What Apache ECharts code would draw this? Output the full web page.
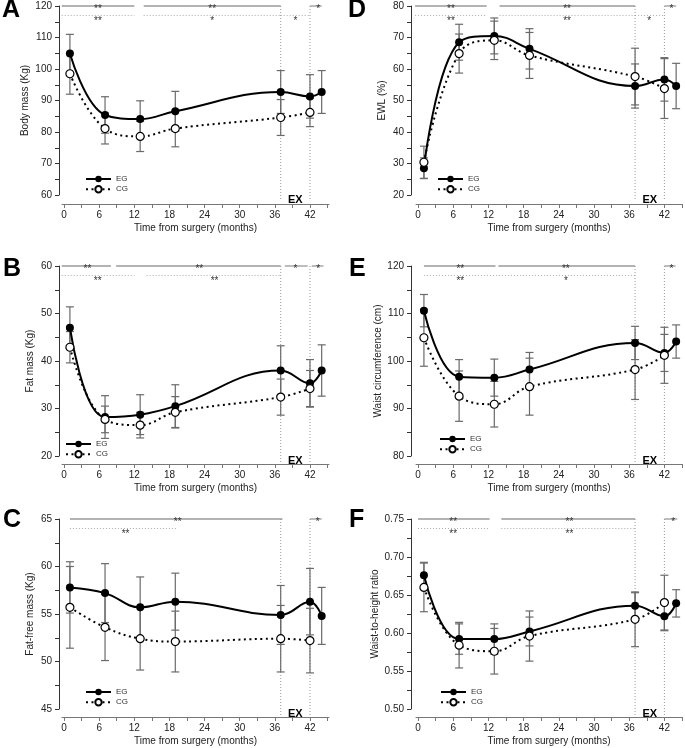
<!DOCTYPE html>
<html><head><meta charset="utf-8">
<script src="https://cdn.jsdelivr.net/npm/echarts@6/dist/echarts.min.js"></script>
<style>html,body{margin:0;padding:0;background:#fff}#c{width:685px;height:748px}</style>
</head><body><div id="c"></div>
<script>
// ---------- shared ----------
const monthsEG = [1, 7, 13, 19, 37, 42, 44];
const monthsCG = [1, 7, 13, 19, 37, 42];
const xTickValues = [0, 3, 6, 9, 12, 15, 18, 21, 24, 27, 30, 33, 36, 39, 42, 45];
const xLabelValues = [0, 6, 12, 18, 24, 30, 36, 42];
const exLines = [37, 42];

// ---------- A: Body mass ----------
const bodyMassEG = [104.9, 85.4, 84.1, 86.6, 92.7, 91.3, 92.7];
const bodyMassEGsd = [6.1, 5.8, 5.8, 6.3, 6.8, 6.9, 6.8];
const bodyMassCG = [98.5, 81.1, 78.6, 81.1, 84.6, 86.2];
const bodyMassCGsd = [6.5, 4.9, 4.8, 5.8, 5.7, 4.5];
const bodyMassSolid = [[-0.4, 12], [13.6, 37], [42, 44]];
const bodyMassDotted = [[-0.4, 12], [13.6, 37], [37, 42]];
const bodyMassStars = [[5.8, 1, '**'], [25.3, 1, '**'], [43.4, 1, '*'], [5.8, 2, '**'], [25.3, 2, '*'], [39.5, 2, '*']];

// ---------- B: Fat mass ----------
const fatMassEG = [47.0, 28.2, 28.7, 30.5, 38.0, 35.3, 38.0];
const fatMassEGsd = [4.4, 4.5, 4.2, 4.5, 5.2, 5.0, 5.4];
const fatMassCG = [42.9, 27.7, 26.5, 29.2, 32.4, 34.2];
const fatMassCGsd = [3.3, 2.8, 2.7, 3.3, 3.8, 3.8];
const fatMassSolid = [[-0.4, 8], [8.9, 37], [37.7, 41.6], [42.3, 44.3]];
const fatMassDotted = [[-0.4, 12], [14.1, 37]];
const fatMassStars = [[4.0, 1, '**'], [23.1, 1, '**'], [39.5, 1, '*'], [43.4, 1, '*'], [5.75, 2, '**'], [25.7, 2, '**']];

// ---------- C: Fat-free mass ----------
const fatFreeEG = [57.8, 57.2, 55.7, 56.3, 54.9, 56.3, 54.8];
const fatFreeEGsd = [2.7, 3.1, 3.2, 3.0, 3.1, 3.5, 3.0];
const fatFreeCG = [55.7, 53.6, 52.4, 52.1, 52.4, 52.2];
const fatFreeCGsd = [4.3, 3.5, 3.3, 3.2, 3.5, 3.4];
const fatFreeSolid = [[1, 37.3], [42, 44]];
const fatFreeDotted = [[1, 19.4]];
const fatFreeStars = [[19.4, 1, '**'], [43.3, 1, '*'], [10.5, 2, '**']];

// ---------- D: EWL ----------
const ewlEG = [28.5, 68.5, 70.5, 66.4, 54.6, 56.7, 54.6];
const ewlEGsd = [3.3, 5.7, 5.7, 6.4, 7.0, 6.9, 7.2];
const ewlCG = [30.4, 64.9, 69.1, 64.3, 57.6, 53.8];
const ewlCGsd = [5.1, 6.2, 6.1, 7.3, 9.0, 9.5];
const ewlSolid = [[-0.5, 11.7], [13.9, 37], [42, 44]];
const ewlDotted = [[-0.5, 11.7], [13.9, 37], [37, 42]];
const ewlStars = [[5.6, 1, '**'], [25.4, 1, '**'], [43.2, 1, '*'], [5.6, 2, '**'], [25.4, 2, '**'], [39.4, 2, '*']];

// ---------- E: Waist circumference ----------
const waistEG = [110.6, 96.7, 96.5, 98.2, 103.8, 101.7, 104.1];
const waistEGsd = [3.4, 3.6, 3.9, 3.6, 3.5, 3.9, 3.5];
const waistCG = [104.9, 92.6, 90.9, 94.6, 98.2, 101.2];
const waistCGsd = [6.0, 5.3, 4.8, 6.0, 6.3, 5.9];
const waistSolid = [[1, 13.2], [13.7, 37], [42, 43.9]];
const waistDotted = [[1, 37]];
const waistStars = [[7.2, 1, '**'], [25.2, 1, '**'], [43.2, 1, '*'], [7.2, 2, '**'], [25.2, 2, '*']];

// ---------- F: Waist-to-height ratio ----------
const whrEG = [0.676, 0.592, 0.592, 0.602, 0.636, 0.622, 0.639];
const whrEGsd = [0.017, 0.020, 0.020, 0.019, 0.017, 0.019, 0.018];
const whrCG = [0.660, 0.584, 0.576, 0.596, 0.618, 0.640];
const whrCGsd = [0.032, 0.030, 0.030, 0.033, 0.036, 0.036];
const whrSolid = [[0, 12.2], [14.2, 37], [42, 44.2]];
const whrDotted = [[0, 12.2], [14.2, 37]];
const whrStars = [[6.0, 1, '**'], [25.8, 1, '**'], [43.5, 1, '*'], [6.0, 2, '**'], [25.8, 2, '**']];

// ---------- layout ----------
const FONT = '"Liberation Sans", Arial, Helvetica, sans-serif';
const colLeft = [62, 416];
const colWidth = [267, 266];
const colXMax = [45.25, 45];
const colYOffset = [3, 5];
const rowTop = [6, 266, 519];
const rowHeight = [189, 190, 190];
const rowXOffset = [9, 8, 8];

const panels = [
  {letter: 'A', col: 0, row: 0, yName: 'Body mass (Kg)', nameGap: 29, yMin: 60, yMax: 120, yStep: 10, dec: 0,
   eg: bodyMassEG, egSd: bodyMassEGsd, cg: bodyMassCG, cgSd: bodyMassCGsd, solid: bodyMassSolid, dotted: bodyMassDotted, stars: bodyMassStars,
   letterPos: [2, -2], legendPos: [85, 175]},
  {letter: 'D', col: 1, row: 0, yName: 'EWL (%)', nameGap: 24, yMin: 20, yMax: 80, yStep: 10, dec: 0,
   eg: ewlEG, egSd: ewlEGsd, cg: ewlCG, cgSd: ewlCGsd, solid: ewlSolid, dotted: ewlDotted, stars: ewlStars,
   letterPos: [348, -2], legendPos: [437, 175]},
  {letter: 'B', col: 0, row: 1, yName: 'Fat mass (Kg)', nameGap: 24, yMin: 20, yMax: 60, yStep: 10, dec: 0,
   eg: fatMassEG, egSd: fatMassEGsd, cg: fatMassCG, cgSd: fatMassCGsd, solid: fatMassSolid, dotted: fatMassDotted, stars: fatMassStars,
   letterPos: [3, 257], legendPos: [65, 440]},
  {letter: 'E', col: 1, row: 1, yName: 'Waist circumference (cm)', nameGap: 26, yMin: 80, yMax: 120, yStep: 10, dec: 0,
   eg: waistEG, egSd: waistEGsd, cg: waistCG, cgSd: waistCGsd, solid: waistSolid, dotted: waistDotted, stars: waistStars,
   letterPos: [349, 257], legendPos: [439, 435]},
  {letter: 'C', col: 0, row: 2, yName: 'Fat-free mass (Kg)', nameGap: 24, yMin: 45, yMax: 65, yStep: 5, dec: 0,
   eg: fatFreeEG, egSd: fatFreeEGsd, cg: fatFreeCG, cgSd: fatFreeCGsd, solid: fatFreeSolid, dotted: fatFreeDotted, stars: fatFreeStars,
   letterPos: [3, 508], legendPos: [85, 688]},
  {letter: 'F', col: 1, row: 2, yName: 'Waist-to-height ratio', nameGap: 27, yMin: 0.5, yMax: 0.75, yStep: 0.05, dec: 2,
   eg: whrEG, egSd: whrEGsd, cg: whrCG, cgSd: whrCGsd, solid: whrSolid, dotted: whrDotted, stars: whrStars,
   letterPos: [349, 508], legendPos: [440, 688]}
];

const option = {
  animation: false,
  backgroundColor: '#fff',
  textStyle: {fontFamily: FONT},
  title: [], grid: [], xAxis: [], yAxis: [], legend: [], series: []
};

panels.forEach((p, i) => {
  const range = p.yMax - p.yMin;
  const yTop = p.yMax;
  const yDot = p.yMax - 0.05 * range;

  option.title.push({
    text: p.letter, left: p.letterPos[0], top: p.letterPos[1], padding: 0,
    textStyle: {fontSize: 25, fontWeight: 'bold', color: '#000', fontFamily: FONT}
  });
  option.grid.push({
    left: colLeft[p.col], top: rowTop[p.row], width: colWidth[p.col], height: rowHeight[p.row],
    containLabel: false, outerBoundsMode: 'none'
  });
  option.xAxis.push({
    gridIndex: i, type: 'value', min: -0.35, max: colXMax[p.col], offset: rowXOffset[p.row],
    splitLine: {show: false},
    axisLine: {show: true, onZero: false, lineStyle: {color: '#777', width: 1}},
    axisTick: {show: true, customValues: xTickValues, length: 4, lineStyle: {color: '#777'}},
    axisLabel: {customValues: xLabelValues, fontSize: 10, color: '#222', margin: 6, fontFamily: FONT},
    name: 'Time from surgery (months)', nameLocation: 'middle', nameGap: 19,
    nameTextStyle: {fontSize: 10, color: '#222', fontFamily: FONT}
  });
  option.yAxis.push({
    gridIndex: i, type: 'value', min: p.yMin, max: p.yMax, interval: p.yStep, offset: colYOffset[p.col],
    splitLine: {show: false},
    axisLine: {show: true, onZero: false, lineStyle: {color: '#333', width: 1}},
    axisTick: {show: true, length: 4, lineStyle: {color: '#333'}},
    minorTick: {show: true, splitNumber: 2, length: 4, lineStyle: {color: '#333'}},
    axisLabel: {fontSize: 10, color: '#222', margin: 7, fontFamily: FONT,
      formatter: v => Number(v).toFixed(p.dec)},
    name: p.yName, nameLocation: 'middle', nameGap: p.nameGap,
    nameTextStyle: {fontSize: 10, color: '#222', fontFamily: FONT}
  });
  option.legend.push({
    left: p.legendPos[0], top: p.legendPos[1], orient: 'vertical', padding: 0,
    data: ['EG', 'CG'], itemWidth: 25, itemHeight: 8, itemGap: 2, selectedMode: false,
    textStyle: {fontSize: 8, color: '#333', fontFamily: FONT}
  });

  // annotation lines (significance bars + EX vertical lines)
  const annData = p.solid.map(s => [s[0], s[1], 0])
    .concat(p.dotted.map(s => [s[0], s[1], 1]))
    .concat(exLines.map(x => [x, x, 2]));
  option.series.push({
    type: 'custom', xAxisIndex: i, yAxisIndex: i, silent: true, z: 1, data: annData,
    renderItem: (params, api) => {
      const x1 = api.value(0), x2 = api.value(1), t = api.value(2);
      if (t === 2) {
        const a = api.coord([x1, yTop]), b = api.coord([x1, p.yMin]);
        return {type: 'line', shape: {x1: a[0], y1: a[1], x2: b[0], y2: b[1] + 6},
          style: {stroke: '#999', lineWidth: 1, lineDash: [1, 2]}};
      }
      const y = t === 0 ? yTop : yDot;
      const a = api.coord([x1, y]), b = api.coord([x2, y]);
      return {type: 'line', shape: {x1: a[0], y1: a[1], x2: b[0], y2: b[1]},
        style: t === 0 ? {stroke: '#9a9a9a', lineWidth: 1.3} : {stroke: '#aaa', lineWidth: 1, lineDash: [1, 2]}};
    }
  });

  // error bars
  const errData = monthsEG.map((m, k) => [m, p.eg[k] - p.egSd[k], p.eg[k] + p.egSd[k]])
    .concat(monthsCG.map((m, k) => [m, p.cg[k] - p.cgSd[k], p.cg[k] + p.cgSd[k]]));
  option.series.push({
    type: 'custom', xAxisIndex: i, yAxisIndex: i, silent: true, z: 2, data: errData,
    renderItem: (params, api) => {
      const x = api.value(0), lo = api.value(1), hi = api.value(2);
      const a = api.coord([x, hi]), b = api.coord([x, lo]);
      const w = 4, st = {stroke: '#6a6a6a', lineWidth: 1.2};
      return {type: 'group', children: [
        {type: 'line', shape: {x1: a[0], y1: a[1], x2: b[0], y2: b[1]}, style: st},
        {type: 'line', shape: {x1: a[0] - w, y1: a[1], x2: a[0] + w, y2: a[1]}, style: st},
        {type: 'line', shape: {x1: b[0] - w, y1: b[1], x2: b[0] + w, y2: b[1]}, style: st}
      ]};
    }
  });

  // EG / CG lines
  option.series.push({
    type: 'line', name: 'EG', xAxisIndex: i, yAxisIndex: i, z: 3, smooth: 0.42,
    data: monthsEG.map((m, k) => [m, p.eg[k]]),
    symbol: 'circle', symbolSize: 8,
    itemStyle: {color: '#000'}, lineStyle: {color: '#000', width: 2}
  });
  option.series.push({
    type: 'line', name: 'CG', xAxisIndex: i, yAxisIndex: i, z: 4, smooth: 0.42,
    data: monthsCG.map((m, k) => [m, p.cg[k]]),
    symbol: 'circle', symbolSize: 8,
    itemStyle: {color: '#fff', borderColor: '#000', borderWidth: 1.2},
    lineStyle: {color: '#000', width: 2, type: [2, 3.5]}
  });

  // stars and EX text
  const texts = p.stars.map(s => ({x: s[0], y: s[1] === 1 ? yTop : yDot, dy: s[1] === 1 ? 3.5 : 5.5, text: s[2], bold: false}))
    .concat([{x: (exLines[0] + exLines[1]) / 2, y: p.yMin, dy: 4.5, text: 'EX', bold: true}]);
  option.series.push({
    type: 'custom', xAxisIndex: i, yAxisIndex: i, silent: true, z: 6,
    data: texts.map(t => [t.x, t.y]),
    renderItem: (params, api) => {
      const t = texts[params.dataIndex];
      const c = api.coord([api.value(0), api.value(1)]);
      return {type: 'text', x: c[0], y: c[1] + t.dy,
        style: {text: t.text, fill: t.bold ? '#000' : '#333',
          font: (t.bold ? 'bold 11px ' : '10px ') + FONT, align: 'center', verticalAlign: 'middle'}};
    }
  });
});

const chart = echarts.init(document.getElementById('c'), null, {renderer: 'canvas'});
chart.setOption(option);
</script>
</body></html>
